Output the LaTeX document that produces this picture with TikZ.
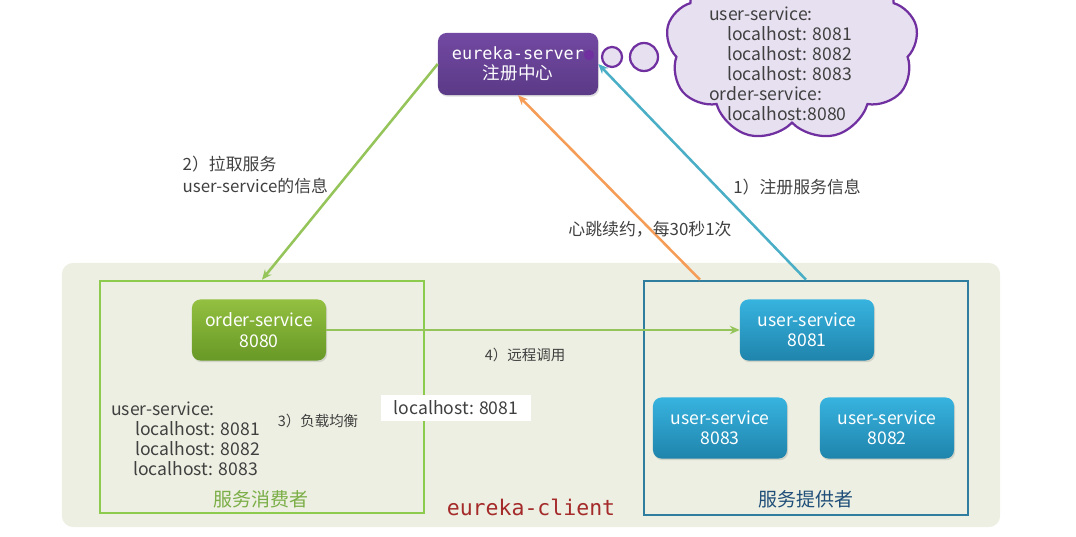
\documentclass[tikz,border=0pt]{standalone}
\usepackage{fontspec}
\setmainfont{Noto Sans CJK SC}
\setmonofont{DejaVu Sans Mono}
\usetikzlibrary{arrows.meta,positioning,shapes.symbols,shadows,calc}

\definecolor{clientbg}{HTML}{ECEFE1}
\definecolor{consumerline}{HTML}{8DCB4E}
\definecolor{providerline}{HTML}{2F7EA0}
\definecolor{servertop}{HTML}{7249A2}
\definecolor{serverbot}{HTML}{5B3A87}
\definecolor{cloudfill}{HTML}{E7E0F1}
\definecolor{cloudline}{HTML}{7030A0}
\definecolor{ordertop}{HTML}{93C040}
\definecolor{orderbot}{HTML}{689826}
\definecolor{usertop}{HTML}{37B3DF}
\definecolor{userbot}{HTML}{1F84AC}
\definecolor{pullline}{HTML}{95C55A}
\definecolor{beatline}{HTML}{F59D56}
\definecolor{regline}{HTML}{4AAEC6}
\definecolor{labeltext}{HTML}{404040}
\definecolor{consumertext}{HTML}{7BAE47}
\definecolor{providertext}{HTML}{1F4E79}
\definecolor{clienttext}{HTML}{A52A2A}

\begin{document}
\begin{tikzpicture}[
  x=0.025cm, y=-0.025cm,
  svc/.style={rectangle, rounded corners=6pt, minimum width=3.35cm,
    minimum height=1.525cm, align=center, text=white,
    font=\fontsize{12.5}{14.5}\selectfont,
    drop shadow={opacity=0.25, shadow xshift=0.8pt, shadow yshift=-1.2pt}},
  ordersvc/.style={svc, top color=ordertop, bottom color=orderbot},
  usersvc/.style={svc, top color=usertop, bottom color=userbot},
  group/.style={rectangle, draw, line width=1.8pt, minimum width=8.1cm,
    minimum height=5.8cm},
  note/.style={font=\fontsize{12}{16}\selectfont, text=labeltext,
    inner sep=1pt},
  smallnote/.style={note, font=\fontsize{10.3}{12.5}\selectfont},
  hosts/.style={font=\fontsize{12.5}{14.2}\selectfont, text=labeltext,
    align=left, inner sep=0pt},
  bubble/.style={circle, draw=cloudline, fill=cloudfill, line width=1.6pt,
    inner sep=0pt},
  arr/.style={-{Stealth[length=7pt, width=6pt]}, line width=1.8pt},
]
  \useasboundingbox (0,0) rectangle (1076,537);

  % eureka-client area
  \node[rectangle, rounded corners=8pt, fill=clientbg, minimum width=23.45cm,
    minimum height=6.6cm] (client) at (531,395) {};
  \node[group, draw=consumerline] (consumer) at (262,397) {};
  \node[group, draw=providerline, minimum height=5.85cm] (provider)
    at (806,398) {};

  % registry and its cloud
  \node[svc, top color=servertop, bottom color=serverbot, minimum width=4cm,
    minimum height=1.55cm] (server) at (518,64)
    {{\ttfamily\fontsize{12}{14}\selectfont eureka-server}\\注册中心};
  \node[cloud, cloud puffs=9, cloud puff arc=120, cloud ignores aspect,
    minimum width=6.3cm, minimum height=4.9cm, draw=cloudline,
    fill=cloudfill, line width=1.6pt] (registry) at (792,43) {};
  \node[bubble, fill=cloudline, minimum size=0.2cm] (dot) at (589,55) {};
  \node[bubble, minimum size=0.5cm] (bubblea) at (612,57) {};
  \node[bubble, minimum size=0.7cm] (bubbleb) at (644,57) {};
  \node[hosts, anchor=north west] (table) at (709,7)
    {user-service:\\
     \hspace{0.45cm}localhost: 8081\\
     \hspace{0.45cm}localhost: 8082\\
     \hspace{0.45cm}localhost: 8083\\
     order-service:\\
     \hspace{0.45cm}localhost:8080};

  % services
  \node[ordersvc] (order) at (259,330) {order-service\\8080};
  \node[usersvc] (user1) at (807,330) {user-service\\8081};
  \node[usersvc] (user3) at (720,428) {user-service\\8083};
  \node[usersvc] (user2) at (887,428) {user-service\\8082};

  % connectors
  \draw[arr, pullline] (server.west) -- (consumer.north);
  \draw[arr, regline] (provider.north) -- (server.east);
  \draw[arr, beatline] ($(provider.north)+(-106,0)$) -- (server.south);
  \draw[arr, pullline] (order.east) -- (user1.west);

  % labels
  \node[note, anchor=west, align=left] (pull) at (181,175)
    {2）拉取服务\\user-service的信息};
  \node[note] (reg) at (797,187) {1）注册服务信息};
  \node[note] (beat) at (650,229) {心跳续约，每30秒1次};
  \node[smallnote] (call) at (525,355) {4）远程调用};
  \node[smallnote] (lb) at (318,421) {3）负载均衡};
  \node[hosts, fill=white, minimum width=3.75cm, minimum height=0.65cm,
    align=center] (chosen) at (456,408) {localhost: 8081};
  \node[hosts, anchor=north west] (cache) at (111,402)
    {user-service:\\
     \hspace{0.6cm}localhost: 8081\\
     \hspace{0.6cm}localhost: 8082\\
     \hspace{0.55cm}localhost: 8083};
  \node[font=\fontsize{13.5}{16}\selectfont, text=consumertext]
    (consumertitle) at (261,499) {服务消费者};
  \node[font=\fontsize{13.5}{16}\selectfont, text=providertext]
    (providertitle) at (806,499) {服务提供者};
  \node[font=\ttfamily\fontsize{15.3}{18}\selectfont, text=clienttext]
    (clienttitle) at (531,507) {eureka-client};
\end{tikzpicture}
\end{document}
